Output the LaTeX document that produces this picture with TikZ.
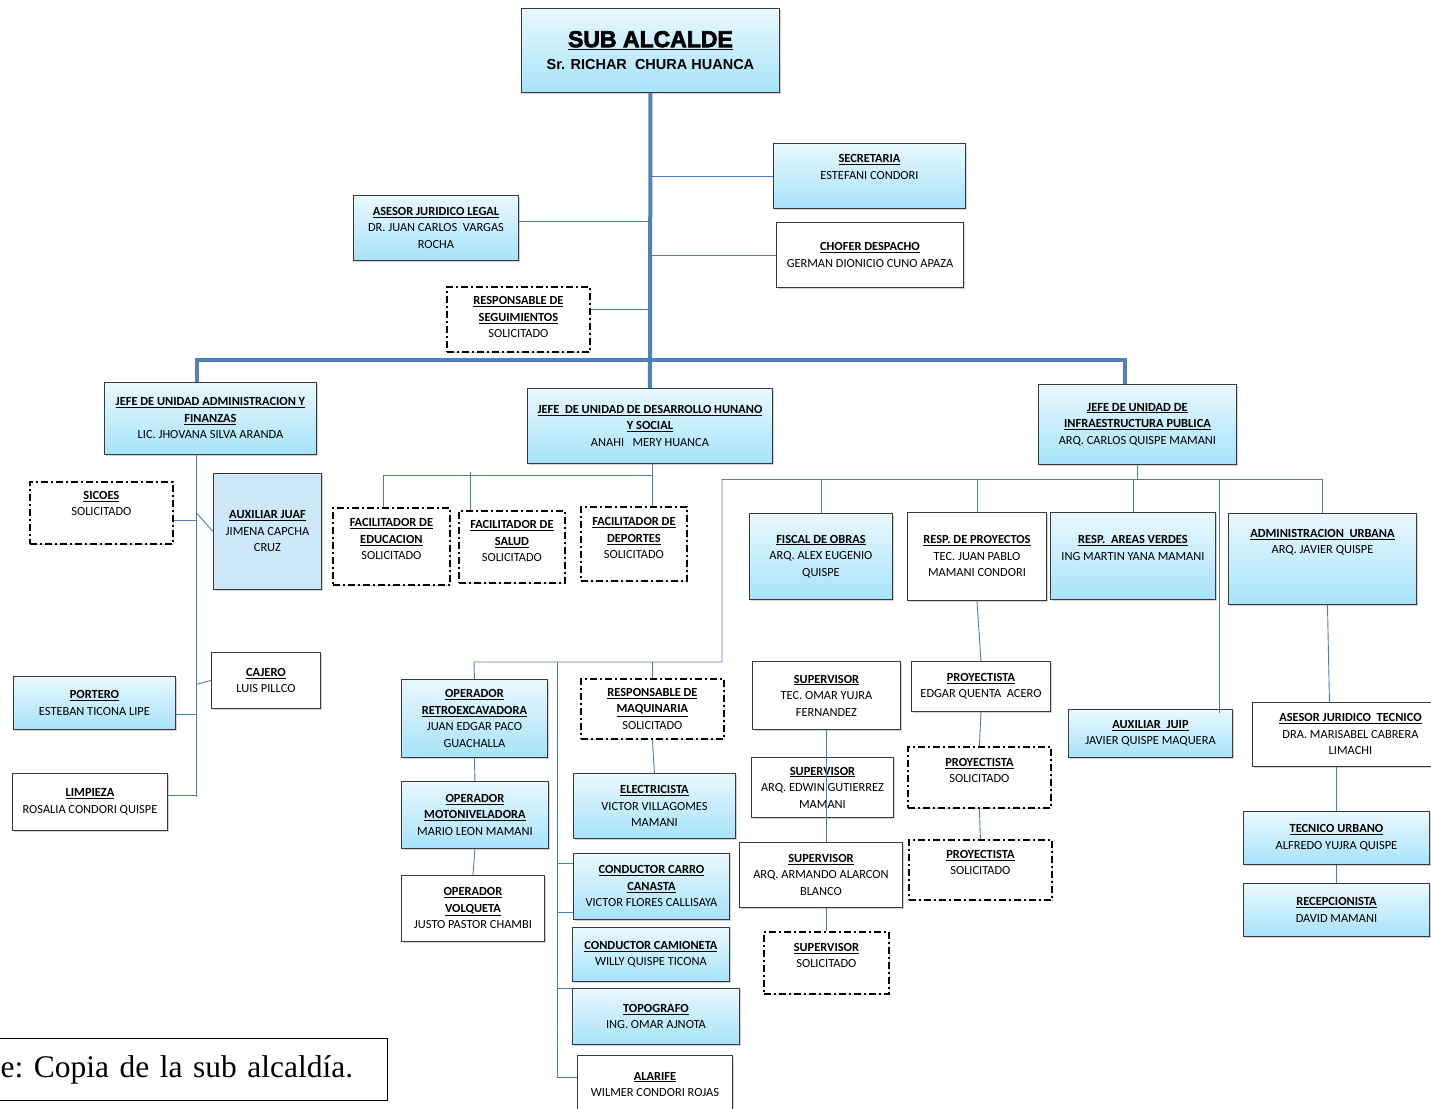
\documentclass[tikz,border=0pt]{standalone}
\usepackage{fontspec}
\setmainfont{Carlito}
\newfontfamily\titlefont[FakeBold=3]{Liberation Sans Bold}
\newfontfamily\namefont{Liberation Sans}
\newfontfamily\capfont{Liberation Serif}
\usetikzlibrary{shadows,calc}

\definecolor{boxtop}{HTML}{EAF8FE}
\definecolor{boxbot}{HTML}{A6E3FA}
\definecolor{juafblue}{HTML}{CCE8FA}
\definecolor{linkblue}{HTML}{4A7EBB}
\definecolor{trunkblue}{HTML}{4F81BD}
\definecolor{boxedge}{HTML}{3A3A3A}

\tikzset{
  unit/.style={draw=boxedge, line width=0.9pt, anchor=north west, align=center,
    inner sep=2pt, font=\fontsize{12.4}{16.5}\selectfont,
    drop shadow={shadow xshift=1.5pt, shadow yshift=-1.5pt, opacity=0.35}},
  cargo/.style={unit, top color=boxtop, bottom color=boxbot},
  blanco/.style={unit, fill=white},
  solic/.style={unit, fill=white, draw=black, line width=1.8pt,
    dash pattern=on 7pt off 3pt on 2pt off 3pt},
  sz/.style n args={2}{minimum width=#1, minimum height=#2},
  lift/.style={text depth=#1},
  link/.style={draw=linkblue, line width=0.9pt},
  trunk/.style={draw=trunkblue, line width=4pt}
}
\newcommand{\cargotit}[1]{\textbf{\underline{#1}}}

\begin{document}
\begin{tikzpicture}[x=1pt,y=-1pt]
  \path[use as bounding box, fill=white] (0,0) rectangle (1431,1108);
  %% TOP
  \node[cargo, sz={258pt}{84pt}] (alcalde) at (521,8)
    {{\titlefont\fontsize{23}{26}\selectfont\underline{SUB ALCALDE}}\\[6pt]
     {\namefont\bfseries\fontsize{14.5}{17}\selectfont Sr. RICHAR\ \ CHURA HUANCA}};
  \node[cargo, sz={192pt}{65pt}, lift=18pt] (secretaria) at (773,143)
    {\cargotit{SECRETARIA}\\ESTEFANI CONDORI};
  \node[cargo, sz={165pt}{65pt}] (asesor) at (353,195)
    {\cargotit{ASESOR JURIDICO LEGAL}\\DR. JUAN CARLOS\ \ VARGAS\\ROCHA};
  \node[blanco, sz={187pt}{65pt}] (chofer) at (776,222)
    {\cargotit{CHOFER DESPACHO}\\GERMAN DIONICIO CUNO APAZA};
  \node[solic, sz={143pt}{65pt}, lift=4pt] (seguim) at (446,286)
    {\cargotit{RESPONSABLE DE}\\\cargotit{SEGUIMIENTOS}\\SOLICITADO};
  %% JEFES DE UNIDAD
  \node[cargo, sz={212pt}{72pt}] (admin) at (104,382)
    {\cargotit{JEFE DE UNIDAD ADMINISTRACION\ Y}\\\cargotit{FINANZAS}\\LIC. JHOVANA SILVA ARANDA};
  \node[cargo, sz={245pt}{75pt}] (desarrollo) at (527,388)
    {\cargotit{JEFE\ \ DE UNIDAD DE DESARROLLO HUNANO}\\\cargotit{Y SOCIAL}\\ANAHI\ \ \ MERY HUANCA};
  \node[cargo, sz={198pt}{80pt}] (infra) at (1038,384)
    {\cargotit{JEFE DE UNIDAD DE}\\\cargotit{INFRAESTRUCTURA PUBLICA}\\ARQ. CARLOS QUISPE MAMANI};
  %% ADMINISTRACION
  \node[solic, sz={143pt}{62pt}, lift=19pt] (sicoes) at (29,481)
    {\cargotit{SICOES}\\SOLICITADO};
  \node[unit, fill=juafblue, sz={108pt}{116pt}] (auxjuaf) at (213,473)
    {\cargotit{AUXILIAR JUAF}\\JIMENA CAPCHA\\CRUZ};
  \node[cargo, sz={162pt}{53pt}] (portero) at (13,676)
    {\cargotit{PORTERO}\\ESTEBAN TICONA LIPE};
  \node[blanco, sz={109pt}{56pt}] (cajero) at (211,652)
    {\cargotit{CAJERO}\\LUIS PILLCO};
  \node[blanco, sz={155pt}{57pt}] (limpieza) at (12,773)
    {\cargotit{LIMPIEZA}\\ROSALIA CONDORI QUISPE};
  %% DESARROLLO HUMANO
  \node[solic, sz={117pt}{77pt}, lift=14pt] (educacion) at (332,507)
    {\cargotit{FACILITADOR DE}\\\cargotit{EDUCACION}\\SOLICITADO};
  \node[solic, sz={106pt}{72pt}, lift=11pt] (salud) at (458,510)
    {\cargotit{FACILITADOR DE}\\\cargotit{SALUD}\\SOLICITADO};
  \node[solic, sz={106pt}{74pt}, lift=11pt] (deportes) at (580,506)
    {\cargotit{FACILITADOR DE}\\\cargotit{DEPORTES}\\SOLICITADO};
  %% INFRAESTRUCTURA
  \node[cargo, sz={143pt}{86pt}] (fiscal) at (749,513)
    {\cargotit{FISCAL DE OBRAS}\\ARQ. ALEX EUGENIO\\QUISPE};
  \node[blanco, sz={139pt}{88pt}] (respproy) at (907,512)
    {\cargotit{RESP. DE PROYECTOS}\\TEC. JUAN PABLO\\MAMANI CONDORI};
  \node[cargo, sz={165pt}{87pt}, lift=16pt] (verdes) at (1050,512)
    {\cargotit{RESP.\ \ AREAS VERDES}\\ING MARTIN YANA MAMANI};
  \node[cargo, sz={188pt}{91pt}, lift=35pt] (adminurb) at (1228,513)
    {\cargotit{ADMINISTRACION\ \ URBANA}\\ARQ. JAVIER QUISPE};
  % maquinaria
  \node[cargo, sz={146pt}{78pt}] (retro) at (401,679)
    {\cargotit{OPERADOR}\\\cargotit{RETROEXCAVADORA}\\JUAN EDGAR PACO\\GUACHALLA};
  \node[cargo, sz={147pt}{67pt}] (moto) at (401,781)
    {\cargotit{OPERADOR}\\\cargotit{MOTONIVELADORA}\\MARIO LEON MAMANI};
  \node[blanco, sz={143pt}{66pt}] (volqueta) at (401,875)
    {\cargotit{OPERADOR}\\\cargotit{VOLQUETA}\\JUSTO PASTOR CHAMBI};
  \node[solic, sz={143pt}{60pt}] (maquinaria) at (580,678)
    {\cargotit{RESPONSABLE DE}\\\cargotit{MAQUINARIA}\\SOLICITADO};
  \node[cargo, sz={162pt}{65pt}] (electricista) at (573,773)
    {\cargotit{ELECTRICISTA}\\VICTOR VILLAGOMES\\MAMANI};
  \node[cargo, sz={156pt}{66pt}] (canasta) at (573,853)
    {\cargotit{CONDUCTOR CARRO}\\\cargotit{CANASTA}\\VICTOR FLORES CALLISAYA};
  \node[cargo, sz={157pt}{54pt}] (camioneta) at (572,927)
    {\cargotit{CONDUCTOR CAMIONETA}\\WILLY QUISPE TICONA};
  \node[cargo, sz={167pt}{56pt}] (topografo) at (572,988)
    {\cargotit{TOPOGRAFO}\\ING. OMAR AJNOTA};
  \node[blanco, sz={155pt}{58pt}] (alarife) at (577,1055)
    {\cargotit{ALARIFE}\\WILMER CONDORI ROJAS};
  % supervision
  \node[blanco, sz={148pt}{68pt}] (supomar) at (752,661)
    {\cargotit{SUPERVISOR}\\TEC. OMAR YUJRA\\FERNANDEZ};
  \node[blanco, sz={142pt}{60pt}] (supedwin) at (751,757)
    {\cargotit{SUPERVISOR}\\ARQ. EDWIN GUTIERREZ\\MAMANI};
  \node[blanco, sz={163pt}{65pt}] (suparmando) at (739,842)
    {\cargotit{SUPERVISOR}\\ARQ. ARMANDO ALARCON\\BLANCO};
  \node[solic, sz={125pt}{62pt}, lift=15pt] (supsol) at (763,931)
    {\cargotit{SUPERVISOR}\\SOLICITADO};
  % proyectos
  \node[blanco, sz={139pt}{50pt}] (proyedgar) at (911,661)
    {\cargotit{PROYECTISTA}\\EDGAR QUENTA\ \ ACERO};
  \node[solic, sz={143pt}{61pt}, lift=14pt] (proysol1) at (907,746)
    {\cargotit{PROYECTISTA}\\SOLICITADO};
  \node[solic, sz={143pt}{60pt}, lift=15pt] (proysol2) at (908,839)
    {\cargotit{PROYECTISTA}\\SOLICITADO};
  % urbana
  \node[cargo, sz={164pt}{48pt}] (juip) at (1068,709)
    {\cargotit{AUXILIAR\ \ JUIP}\\JAVIER QUISPE MAQUERA};
  \node[blanco, sz={196pt}{64pt}] (asesortec) at (1252,702)
    {\cargotit{ASESOR JURIDICO\ \ TECNICO}\\DRA. MARISABEL CABRERA\\LIMACHI};
  \node[cargo, sz={186pt}{53pt}] (tecurb) at (1243,811)
    {\cargotit{TECNICO URBANO}\\ALFREDO YUJRA QUISPE};
  \node[cargo, sz={186pt}{53pt}] (recep) at (1243,883)
    {\cargotit{RECEPCIONISTA}\\DAVID MAMANI};
  %% FUENTE
  \node[draw=black, line width=1.2pt, anchor=north west, minimum height=62pt,
    inner xsep=10pt, text width=377pt, align=left,
    font=\capfont\fontsize{31.5}{36}\selectfont\frenchspacing] (fuente) at (-10,1038)
    {e: Copia de la sub alcaldía.};

  %% CONNECTORS
  % main trunk and bar
  \coordinate (barL) at (197,360);
  \coordinate (barR) at (1125,360);
  \draw[trunk] (alcalde.south) -- (desarrollo.north);
  \draw[trunk] (barL |- admin.north) -- (barL) -- (barR) -- (barR |- infra.north);
  % staff
  \draw[link] (secretaria.west) -- (secretaria.west -| alcalde.south);
  \draw[link] ($(asesor.east)+(0,-7)$) coordinate (t) -- (t -| alcalde.south);
  \draw[link] (chofer.west) -- (chofer.west -| alcalde.south);
  \draw[link] ($(seguim.east)+(0,-10)$) coordinate (t) -- (t -| alcalde.south);
  % administracion
  \coordinate (aBus) at (196,797);
  \draw[link] (aBus |- admin.south) -- (aBus);
  \draw[link] ($(sicoes.east)+(0,8)$) coordinate (t) -- (t -| aBus);
  \draw[link] (auxjuaf.west) -- ($(auxjuaf.west -| aBus)+(0,-19)$);
  \draw[link] (cajero.west) -- ($(cajero.west -| aBus)+(0,4)$);
  \draw[link] ($(portero.east)+(0,11)$) coordinate (t) -- (t -| aBus);
  \draw[link] ($(limpieza.east)+(0,-7)$) coordinate (t) -- (t -| aBus);
  % desarrollo
  \coordinate (dL) at (383,475);
  \coordinate (dR) at (652,475);
  \coordinate (dM) at (470,472);
  \draw[link] (dR |- desarrollo.south) -- (dR |- deportes.north);
  \draw[link] (dL |- educacion.north) -- (dL) -- (dR);
  \draw[link] (dM) -- (dM |- salud.north);
  % infraestructura
  \coordinate (iL) at (722,479);
  \coordinate (iR) at (1322,479);
  \coordinate (iJ) at (1219,479);
  \draw[link] (iL) -- (iR) -- (iR |- adminurb.north);
  \draw[link] (infra.south) -- (infra.south |- iL);
  \draw[link] (fiscal.north) -- (fiscal.north |- iL);
  \draw[link] (respproy.north) -- (respproy.north |- iL);
  \draw[link] (verdes.north) -- (verdes.north |- iL);
  \draw[link] (iJ) -- ($(iJ |- juip.north)+(0,4)$);
  % maquinaria
  \coordinate (oL) at (474,662);
  \coordinate (oM) at (557,662);
  \coordinate (oR) at (722,662);
  \coordinate (oB) at (557,1077);
  \draw[link] (iL) -- (oR) -- (oL) -- (retro.north);
  \draw[link] (retro.south) -- (moto.north);
  \draw[link] (moto.south) -- (volqueta.north);
  \draw[link] (oM) -- (oB) -- (oB -| alarife.west);
  \draw[link] (maquinaria.north) -- (maquinaria.north |- oM);
  \draw[link] (maquinaria.south) -- (electricista.north);
  \draw[link] ($(canasta.north west)+(0,10)$) coordinate (t) -- (t -| oM);
  \draw[link] ($(canasta.north west)+(0,59)$) coordinate (t) -- (t -| oM);
  \draw[link] (topografo.north west) -- (topografo.north west -| oM);
  % supervision
  \draw[link] (supomar.south) -- (supomar.south |- suparmando.north);
  \draw[link] (supsol.north |- suparmando.south) -- (supsol.north);
  % proyectos
  \draw[link] (respproy.south) -- (proyedgar.north);
  \draw[link] (proyedgar.south) -- (proysol1.north);
  \draw[link] (proysol1.south) -- (proysol2.north);
  % urbana
  \draw[link] ($(adminurb.south)+(5,0)$) coordinate (t) -- ($(t |- asesortec.north)+(2,0)$);
  \draw[link] (asesortec.south -| tecurb.north) -- (tecurb.north);
  \draw[link] (tecurb.south) -- (recep.north);
\end{tikzpicture}
\end{document}
